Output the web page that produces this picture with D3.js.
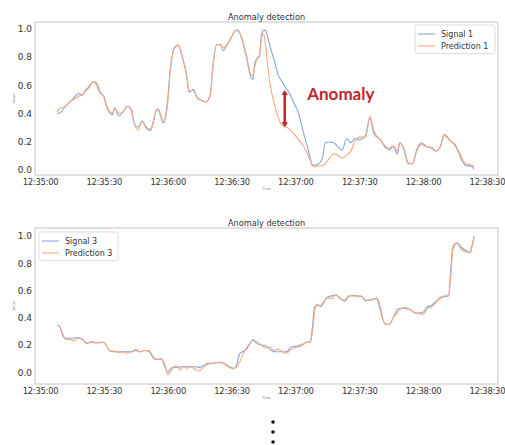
<!DOCTYPE html>
<html>
<head>
<meta charset="utf-8">
<script src="https://cdn.jsdelivr.net/npm/d3@7"></script>
<style>
  body { margin: 0; background: #fff; }
  svg { display: block; }
  text { font-family: "DejaVu Sans", sans-serif; }
</style>
</head>
<body>
<svg id="fig" width="505" height="445"></svg>
<script>
// Tick labels shared by both panels
const timeTicks = ["12:35:00", "12:35:30", "12:36:00", "12:36:30", "12:37:00", "12:37:30", "12:38:00", "12:38:30"];
const valueTicks = [0, 0.2, 0.4, 0.6, 0.8, 1.0];

// Panel 1: seconds after 12:35:00, normalised signal and model prediction
const time1 = [8, 9, 12, 14, 16, 18, 20, 21, 23, 25, 27, 28, 30, 31, 34, 35, 37, 39, 41, 43, 44, 46, 48, 50, 52, 53, 55, 56, 58, 59,
  60, 61, 62, 63, 65, 67, 69, 70, 72, 74, 76, 78, 80, 81, 83, 85, 86, 88, 90, 92, 93, 95, 97, 99, 100, 101, 102, 103, 104, 105,
  106, 107, 108, 110, 112, 114, 115, 117, 119, 121, 124, 126, 127, 128, 129, 131, 133, 134, 136, 138, 140, 142, 144, 146, 148, 150, 153, 155, 157, 160,
  162, 164, 166, 168, 169, 171, 173, 175, 177, 179, 182, 184, 186, 188, 190, 193, 195, 197, 198, 200, 203, 204];
const signal1 = [0.40, 0.40, 0.45, 0.48, 0.51, 0.54, 0.53, 0.555, 0.59, 0.625, 0.59, 0.55, 0.52, 0.46, 0.39, 0.44, 0.38, 0.41, 0.45, 0.42, 0.34, 0.30, 0.345, 0.30, 0.285, 0.33, 0.43, 0.41, 0.33, 0.38,
  0.50, 0.68, 0.80, 0.86, 0.885, 0.79, 0.66, 0.55, 0.57, 0.505, 0.49, 0.48, 0.525, 0.69, 0.89, 0.89, 0.845, 0.89, 0.945, 0.99, 0.99, 0.92, 0.80, 0.66, 0.64, 0.76, 0.79, 0.80, 0.95, 0.99,
  0.99, 0.94, 0.88, 0.78, 0.67, 0.62, 0.59, 0.55, 0.48, 0.42, 0.25, 0.14, 0.08, 0.03, 0.03, 0.04, 0.10, 0.19, 0.195, 0.19, 0.16, 0.135, 0.22, 0.19, 0.22, 0.21, 0.245, 0.365, 0.25, 0.21,
  0.16, 0.14, 0.16, 0.11, 0.19, 0.14, 0.04, 0.04, 0.14, 0.19, 0.16, 0.15, 0.13, 0.16, 0.25, 0.20, 0.17, 0.11, 0.07, 0.03, 0.02, 0.00];
const prediction1 = [0.41, 0.43, 0.45, 0.48, 0.50, 0.52, 0.53, 0.55, 0.58, 0.625, 0.61, 0.56, 0.52, 0.47, 0.40, 0.43, 0.40, 0.41, 0.45, 0.43, 0.35, 0.28, 0.34, 0.29, 0.275, 0.32, 0.43, 0.42, 0.34, 0.37,
  0.47, 0.66, 0.79, 0.86, 0.885, 0.80, 0.66, 0.56, 0.56, 0.51, 0.49, 0.48, 0.53, 0.69, 0.89, 0.88, 0.87, 0.89, 0.94, 0.99, 0.985, 0.93, 0.81, 0.68, 0.67, 0.74, 0.79, 0.81, 0.92, 0.97,
  0.88, 0.74, 0.62, 0.47, 0.37, 0.31, 0.305, 0.29, 0.26, 0.22, 0.16, 0.10, 0.065, 0.03, 0.02, 0.025, 0.03, 0.04, 0.08, 0.11, 0.10, 0.08, 0.10, 0.13, 0.20, 0.23, 0.23, 0.38, 0.27, 0.21,
  0.17, 0.15, 0.17, 0.13, 0.19, 0.15, 0.05, 0.04, 0.13, 0.18, 0.16, 0.16, 0.13, 0.16, 0.24, 0.20, 0.18, 0.12, 0.09, 0.04, 0.03, 0.02];

// Panel 2: seconds after 12:35:00, normalised signal and model prediction
const time3 = [8, 9, 11, 12, 14, 16, 18, 20, 22, 24, 26, 28, 30, 31, 33, 35, 37, 39, 41, 43, 45, 47, 49, 51, 53, 54, 56, 57, 59, 60,
  61, 63, 64, 66, 67, 69, 71, 73, 75, 77, 79, 81, 83, 85, 87, 89, 91, 92, 94, 95, 97, 99, 100, 102, 104, 106, 108, 110, 112, 114,
  116, 118, 120, 122, 124, 125, 127, 128, 129, 130, 132, 133, 135, 137, 139, 141, 143, 145, 147, 149, 151, 153, 154, 156, 158, 160, 161, 162, 164, 166,
  168, 170, 172, 174, 176, 178, 180, 182, 184, 186, 188, 190, 192, 193, 194, 196, 198, 200, 202, 203, 204];
const signal3 = [0.345, 0.34, 0.26, 0.25, 0.25, 0.25, 0.255, 0.24, 0.21, 0.225, 0.215, 0.22, 0.22, 0.20, 0.155, 0.15, 0.15, 0.15, 0.15, 0.15, 0.16, 0.15, 0.16, 0.155, 0.11, 0.095, 0.095, 0.095, 0.03, 0.00,
  0.02, 0.04, 0.035, 0.04, 0.04, 0.04, 0.04, 0.04, 0.035, 0.05, 0.065, 0.065, 0.07, 0.07, 0.06, 0.04, 0.03, 0.04, 0.14, 0.15, 0.17, 0.22, 0.235, 0.21, 0.20, 0.195, 0.17, 0.15, 0.15, 0.15,
  0.15, 0.185, 0.19, 0.19, 0.205, 0.22, 0.225, 0.33, 0.48, 0.49, 0.49, 0.51, 0.55, 0.56, 0.565, 0.545, 0.52, 0.555, 0.565, 0.56, 0.555, 0.53, 0.525, 0.535, 0.54, 0.45, 0.39, 0.36, 0.35, 0.40,
  0.46, 0.47, 0.465, 0.46, 0.435, 0.435, 0.44, 0.48, 0.49, 0.52, 0.54, 0.555, 0.56, 0.75, 0.92, 0.95, 0.915, 0.895, 0.88, 0.93, 0.998];
const prediction3 = [0.345, 0.34, 0.27, 0.24, 0.24, 0.23, 0.25, 0.24, 0.215, 0.22, 0.22, 0.215, 0.22, 0.20, 0.155, 0.155, 0.145, 0.15, 0.14, 0.15, 0.17, 0.15, 0.16, 0.16, 0.12, 0.10, 0.095, 0.10, 0.04, -0.02,
  0.00, 0.04, 0.05, 0.015, 0.04, 0.03, 0.04, 0.02, 0.01, 0.04, 0.06, 0.065, 0.07, 0.075, 0.055, 0.035, 0.025, 0.035, 0.08, 0.12, 0.18, 0.22, 0.24, 0.225, 0.20, 0.18, 0.185, 0.16, 0.17, 0.15,
  0.14, 0.17, 0.18, 0.20, 0.21, 0.22, 0.22, 0.29, 0.44, 0.50, 0.48, 0.50, 0.545, 0.54, 0.57, 0.54, 0.53, 0.56, 0.56, 0.555, 0.56, 0.52, 0.53, 0.53, 0.545, 0.48, 0.40, 0.355, 0.35, 0.40,
  0.44, 0.47, 0.475, 0.46, 0.44, 0.43, 0.425, 0.47, 0.48, 0.51, 0.55, 0.56, 0.57, 0.70, 0.90, 0.945, 0.90, 0.885, 0.875, 0.92, 0.99];

// Gap marked on the first panel (seconds, value range)
const anomalyTime = 115;
const anomalyRange = [0.30, 0.565];

const signalColor = "#86a7dc";
const predictionColor = "#f3aa82";
const textColor = "#333";
const frameColor = "#c4c4c4";

const svg = d3.select("#fig");
const parseTime = d3.timeParse("%H:%M:%S");
const t0 = parseTime(timeTicks[0]);
const at = s => new Date(t0.getTime() + s * 1000);

function panel(cfg) {
  const x = d3.scaleTime().domain([at(-2.35), at(215.2)]).range([35, 498]);
  const y = d3.scaleLinear().domain(cfg.yDomain).range([cfg.bottom, cfg.top]);
  const g = svg.append("g");

  // x axis labels
  const xAxis = d3.axisBottom(x)
    .tickValues(timeTicks.map(parseTime))
    .tickFormat(d3.timeFormat("%H:%M:%S"))
    .tickSize(0).tickPadding(4);
  const gx = g.append("g").attr("transform", `translate(0,${cfg.bottom})`).call(xAxis);
  gx.select(".domain").remove();
  gx.selectAll("text").attr("fill", textColor)
    .style("font-size", "8.4px").style("letter-spacing", "-0.25px")
    .style("font-family", "DejaVu Sans, sans-serif");

  // y axis labels
  const yAxis = d3.axisLeft(y).tickValues(valueTicks).tickFormat(d3.format(".1f")).tickSize(0).tickPadding(3);
  const gy = g.append("g").attr("transform", `translate(${x.range()[0]},0)`).call(yAxis);
  gy.select(".domain").remove();
  gy.selectAll("text").attr("fill", textColor).style("font-size", "9px").style("font-family", "DejaVu Sans, sans-serif");

  // plot frame
  g.append("rect")
    .attr("x", x.range()[0]).attr("y", cfg.top)
    .attr("width", x.range()[1] - x.range()[0]).attr("height", cfg.bottom - cfg.top)
    .attr("fill", "none").attr("stroke", frameColor).attr("stroke-width", 1);

  // title and axis names
  const cx = (x.range()[0] + x.range()[1]) / 2;
  g.append("text").attr("x", cx).attr("y", cfg.top - 2).attr("text-anchor", "middle")
    .attr("fill", textColor).style("font-size", "8.2px").text("Anomaly detection");
  g.append("text").attr("x", cx).attr("y", cfg.bottom + 15).attr("text-anchor", "middle")
    .attr("fill", "#888").style("font-size", "3.5px").text("Time");
  g.append("text").attr("transform", `translate(15,${(cfg.top + cfg.bottom) / 2}) rotate(-90)`)
    .attr("text-anchor", "middle").attr("fill", "#888").style("font-size", "3.5px").text("Value");

  // series
  const series = [
    { values: cfg.signal, color: signalColor, label: cfg.labels[0] },
    { values: cfg.prediction, color: predictionColor, label: cfg.labels[1] }
  ];
  const line = d3.line().x(d => x(at(d[0]))).y(d => y(d[1])).curve(d3.curveMonotoneX);
  series.forEach(s => {
    g.append("path")
      .datum(cfg.time.map((t, i) => [t, s.values[i]]))
      .attr("d", line)
      .attr("fill", "none").attr("stroke", s.color).attr("stroke-width", 1.1)
      .attr("stroke-linejoin", "round");
  });

  // legend
  const lx = cfg.legendLeft ? x.range()[0] + 4 : x.range()[1] - 3 - 80;
  const ly = cfg.legendLeft ? cfg.top + 4 : cfg.top + 3;
  const lw = cfg.legendLeft ? 79 : 80;
  const lg = g.append("g").attr("transform", `translate(${lx},${ly})`);
  lg.append("rect").attr("width", lw).attr("height", 28.5).attr("rx", 2)
    .attr("fill", "#fff").attr("fill-opacity", 0.85).attr("stroke", "#d6d6d6").attr("stroke-width", 0.8);
  series.forEach((s, i) => {
    const ry = 9 + i * 12;
    lg.append("line").attr("x1", 3).attr("x2", 20).attr("y1", ry).attr("y2", ry)
      .attr("stroke", s.color).attr("stroke-width", 1.1);
    lg.append("text").attr("x", 26).attr("y", ry).attr("dy", "0.35em")
      .attr("fill", textColor).style("font-size", "8px").text(s.label);
  });

  return { x, y, g };
}

const p1 = panel({
  top: 22, bottom: 175, yDomain: [-0.04, 1.05],
  time: time1, signal: signal1, prediction: prediction1,
  labels: ["Signal 1", "Prediction 1"], legendLeft: false
});
panel({
  top: 228, bottom: 384, yDomain: [-0.086, 1.058],
  time: time3, signal: signal3, prediction: prediction3,
  labels: ["Signal 3", "Prediction 3"], legendLeft: true
});

// anomaly marker: double-headed arrow across the gap, with a label
const red = "#c3262e";
const ax = p1.x(at(anomalyTime));
const yTop = p1.y(anomalyRange[1]);
const yBot = p1.y(anomalyRange[0]);
const head = 5;
p1.g.append("line").attr("x1", ax).attr("x2", ax).attr("y1", yTop + head - 1).attr("y2", yBot - head + 1)
  .attr("stroke", red).attr("stroke-width", 2.6);
p1.g.append("path")
  .attr("d", `M${ax},${yTop} L${ax - 3.2},${yTop + head} L${ax + 3.2},${yTop + head} Z
              M${ax},${yBot} L${ax - 3.2},${yBot - head} L${ax + 3.2},${yBot - head} Z`)
  .attr("fill", red);
p1.g.append("text").attr("x", ax + 22.5).attr("y", 100)
  .attr("fill", red).style("font-family", "Lato, 'Open Sans', sans-serif")
  .style("font-weight", "bold").style("font-size", "17px").text("Anomaly");

// vertical ellipsis under the panels
svg.append("g").selectAll("circle").data([422, 432, 442]).join("circle")
  .attr("cx", 273).attr("cy", d => d).attr("r", 1.8).attr("fill", "#111");
</script>
</body>
</html>
